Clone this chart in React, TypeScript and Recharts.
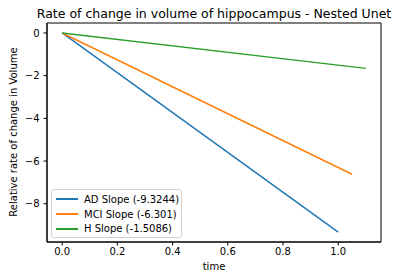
import React from "react";
import { LineChart, Line, XAxis, YAxis, ReferenceArea } from "recharts";

const adTimes = [0, 1.0];
const adValues = [0, -9.3244];
const mciTimes = [0, 1.05];
const mciValues = [0, -6.616];
const hTimes = [0, 1.1];
const hValues = [0, -1.659];
const seriesNames = ["AD Slope (-9.3244)", "MCI Slope (-6.301)", "H Slope (-1.5086)"];
const seriesColors = ["#1f77b4", "#ff7f0e", "#2ca02c"];
const xTicks = [0, 0.2, 0.4, 0.6, 0.8, 1.0];
const yTicks = [0, -2, -4, -6, -8];

const toRows = (t: number[], v: number[]) => t.map((x, i) => ({ t: x, v: v[i] }));
const seriesData = [toRows(adTimes, adValues), toRows(mciTimes, mciValues), toRows(hTimes, hValues)];

const X_DOMAIN: [number, number] = [-0.055, 1.155];
const Y_DOMAIN: [number, number] = [-9.79, 0.466];
const FONT = "'DejaVu Sans', sans-serif";

const LegendBox = () => (
  <div
    style={{
      position: "absolute",
      left: 51,
      top: 189,
      width: 131,
      height: 49,
      border: "1px solid #d0d0d0",
      borderRadius: 3,
      background: "rgba(255,255,255,0.8)",
      fontFamily: FONT,
      fontSize: 10,
      color: "#000",
      boxSizing: "border-box",
      paddingTop: 2,
    }}
  >
    {seriesNames.map((n, i) => (
      <div key={n} style={{ display: "flex", alignItems: "center", height: 14.8, paddingLeft: 4, whiteSpace: "nowrap" }}>
        <div style={{ width: 22, height: 0, borderTop: `2px solid ${seriesColors[i]}`, marginRight: 6 }} />
        <span>{n}</span>
      </div>
    ))}
  </div>
);

export default function App() {
  return (
    <div style={{ position: "absolute", left: 0, top: 0, width: 415, height: 278, background: "#fff" }}>
      <LineChart
        width={415}
        height={278}
        margin={{ top: 23, right: 34, bottom: 0, left: 0 }}
      >
        <XAxis
          type="number"
          dataKey="t"
          domain={X_DOMAIN}
          ticks={xTicks}
          allowDataOverflow
          height={36}
          tickFormatter={(v: number) => v.toFixed(1)}
          tick={{ fill: "#000", fontSize: 10, fontFamily: FONT }}
          tickLine={{ stroke: "#000" }}
          axisLine={{ stroke: "#000" }}
          tickSize={3.5}
          tickMargin={2}
          interval={0}
        />
        <YAxis
          type="number"
          dataKey="v"
          domain={Y_DOMAIN}
          ticks={yTicks}
          allowDataOverflow
          width={47}
          tickFormatter={(v: number) => (v < 0 ? "\u2212" + Math.abs(v) : String(v))}
          tick={{ fill: "#000", fontSize: 10, fontFamily: FONT }}
          tickLine={{ stroke: "#000" }}
          axisLine={{ stroke: "#000" }}
          tickSize={3.5}
          tickMargin={4}
          interval={0}
        />
        <ReferenceArea
          x1={X_DOMAIN[0]}
          x2={X_DOMAIN[1]}
          y1={Y_DOMAIN[0]}
          y2={Y_DOMAIN[1]}
          fill="none"
          stroke="#000"
          strokeWidth={1}
          ifOverflow="visible"
        />
        {seriesData.map((d, i) => (
          <Line
            key={seriesNames[i]}
            data={d}
            dataKey="v"
            name={seriesNames[i]}
            type="linear"
            stroke={seriesColors[i]}
            strokeWidth={1.5}
            dot={false}
            activeDot={false}
            isAnimationActive={false}
          />
        ))}
      </LineChart>
      <LegendBox />
      <div
        style={{
          position: "absolute",
          left: 14,
          width: 400,
          top: 6,
          textAlign: "center",
          fontFamily: FONT,
          fontSize: 12.5,
          color: "#000",
          lineHeight: "15px",
          whiteSpace: "nowrap",
        }}
      >
        Rate of change in volume of hippocampus - Nested Unet
      </div>
      <div
        style={{
          position: "absolute",
          left: 47,
          width: 334,
          top: 261,
          textAlign: "center",
          fontFamily: FONT,
          fontSize: 10,
          color: "#000",
          lineHeight: "12px",
        }}
      >
        time
      </div>
      <div
        style={{
          position: "absolute",
          left: 14 - 110,
          top: 132 - 6,
          width: 220,
          height: 12,
          textAlign: "center",
          fontFamily: FONT,
          fontSize: 10,
          color: "#000",
          lineHeight: "12px",
          transform: "rotate(-90deg)",
          whiteSpace: "nowrap",
        }}
      >
        Relative rate of change in Volume
      </div>
    </div>
  );
}
